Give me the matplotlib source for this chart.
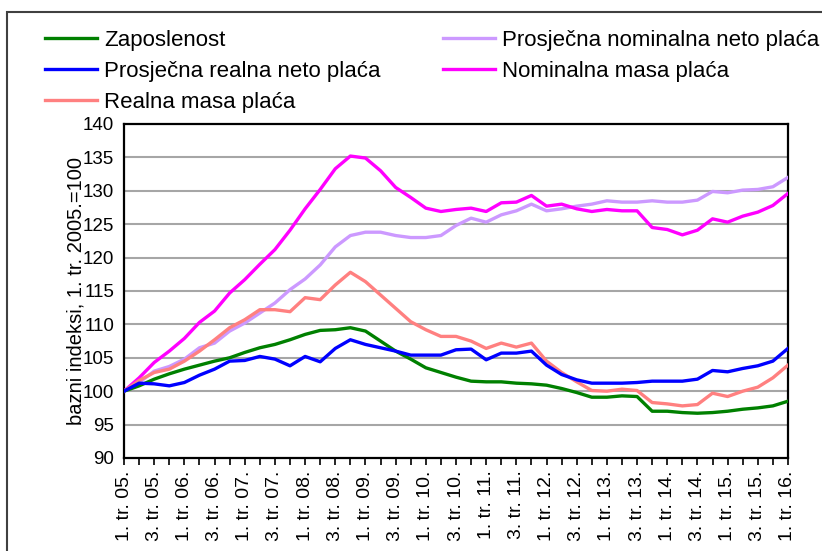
"""Indeksi zaposlenosti i plaća, 1. tr. 2005. = 100."""

import matplotlib

matplotlib.use("Agg")
import matplotlib.pyplot as plt
from matplotlib.patches import Rectangle

plt.rcParams["font.family"] = ["Liberation Sans", "DejaVu Sans"]

# quarters 1. tr. 05. .. 1. tr. 16.
years = [f"{y:02d}" for y in range(5, 17)]
quarters = [(q, y) for y in years for q in (1, 2, 3, 4)][:45]
tick_labels = [f"{q}. tr. {y}." if q in (1, 3) else "" for q, y in quarters]

zaposlenost = [
    100, 100.8, 101.8, 102.6, 103.3, 103.9, 104.5, 105, 105.8, 106.5,
    107, 107.7, 108.5, 109.1, 109.2, 109.5, 109, 107.5, 106, 104.8,
    103.5, 102.8, 102.1, 101.5, 101.4, 101.4, 101.2, 101.1, 100.9, 100.4,
    99.8, 99.1, 99.1, 99.3, 99.2, 97, 97, 96.8, 96.7, 96.8,
    97, 97.3, 97.5, 97.8, 98.5,
]
realna_placa = [
    100, 101.2, 101.1, 100.8, 101.3, 102.4, 103.3, 104.5, 104.6, 105.2,
    104.8, 103.8, 105.2, 104.4, 106.4, 107.7, 107, 106.5, 106, 105.4,
    105.4, 105.4, 106.2, 106.3, 104.7, 105.7, 105.7, 106, 103.9, 102.5,
    101.7, 101.2, 101.2, 101.2, 101.3, 101.5, 101.5, 101.5, 101.8, 103.1,
    102.9, 103.4, 103.8, 104.5, 106.4,
]
realna_masa = [
    100, 101.6, 102.8, 103.3, 104.5, 106, 107.7, 109.5, 110.7, 112.2,
    112.2, 111.9, 114, 113.7, 115.9, 117.8, 116.4, 114.4, 112.4, 110.4,
    109.2, 108.2, 108.2, 107.5, 106.4, 107.2, 106.6, 107.2, 104.5, 102.8,
    101.4, 100.1, 100, 100.3, 100.1, 98.3, 98.1, 97.8, 98, 99.7,
    99.2, 100, 100.6, 102, 103.9,
]
nominalna_placa = [
    100, 101.3, 103, 103.7, 104.8, 106.5, 107.2, 109, 110.2, 111.7,
    113.2, 115.2, 116.8, 118.9, 121.6, 123.3, 123.8, 123.8, 123.3, 123,
    123, 123.3, 124.8, 125.9, 125.3, 126.4, 127, 128, 127, 127.3,
    127.7, 128, 128.5, 128.3, 128.3, 128.5, 128.3, 128.3, 128.6, 129.9,
    129.7, 130.1, 130.2, 130.6, 132,
]
nominalna_masa = [
    100, 102, 104.3, 106, 107.9, 110.3, 112, 114.7, 116.7, 119,
    121.2, 124.1, 127.3, 130.2, 133.3, 135.2, 134.9, 133, 130.5, 129,
    127.4, 126.9, 127.2, 127.4, 126.9, 128.2, 128.3, 129.3, 127.7, 128,
    127.3, 126.9, 127.2, 127, 127, 124.5, 124.2, 123.4, 124.1, 125.8,
    125.3, 126.2, 126.8, 127.8, 129.6,
]

x = list(range(len(quarters)))

fig = plt.figure(figsize=(8.22, 5.51), dpi=100)
ax = fig.add_axes([0.1509, 0.1688, 0.8077, 0.6062])

ax.plot(x, nominalna_placa, color="#cc99ff", lw=2.4, label="Prosječna nominalna neto plaća", zorder=3)
ax.plot(x, nominalna_masa, color="#ff00ff", lw=2.4, label="Nominalna masa plaća", zorder=4)
ax.plot(x, realna_masa, color="#ff8080", lw=2.4, label="Realna masa plaća", zorder=4)
ax.plot(x, zaposlenost, color="#008000", lw=2.4, label="Zaposlenost", zorder=5)
ax.plot(x, realna_placa, color="#0000ff", lw=2.4, label="Prosječna realna neto plaća", zorder=5)

ax.set_xlim(0, len(x) - 1)
ax.set_ylim(90, 140)
ax.set_yticks(range(90, 141, 5))
for v in range(95, 140, 5):
    ax.axhline(v, color="#a6a6a6", lw=1.5, zorder=1)

ax.set_xticks(x)
ax.set_xticklabels(tick_labels, rotation=90, fontsize=14)
ax.tick_params(axis="x", length=5, width=1.2, direction="out", pad=4)
ax.tick_params(axis="y", length=0, pad=7, labelsize=13.5)
for s in ax.spines.values():
    s.set_linewidth(1.6)
    s.set_color("black")

ax.set_ylabel("bazni indeksi, 1. tr. 2005.=100", fontsize=14.5, labelpad=-2)

handles, labels = ax.get_legend_handles_labels()
order = ["Zaposlenost", "Prosječna realna neto plaća", "Realna masa plaća",
         "Prosječna nominalna neto plaća", "Nominalna masa plaća"]
hmap = dict(zip(labels, handles))
fig.legend([hmap[k] for k in order], order, ncol=2, loc="upper left",
           bbox_to_anchor=(0.055, 0.946), frameon=False, fontsize=16,
           handlelength=2.35, handletextpad=0.3, columnspacing=2.8,
           labelspacing=0.45, borderaxespad=0, borderpad=0)

# outer frame of the original figure
fig.patches.append(Rectangle((0.008, -0.01), 1.0, 0.988, transform=fig.transFigure,
                             fill=False, edgecolor="#404040", lw=1.5))

fig.savefig("out.png", dpi=100)
